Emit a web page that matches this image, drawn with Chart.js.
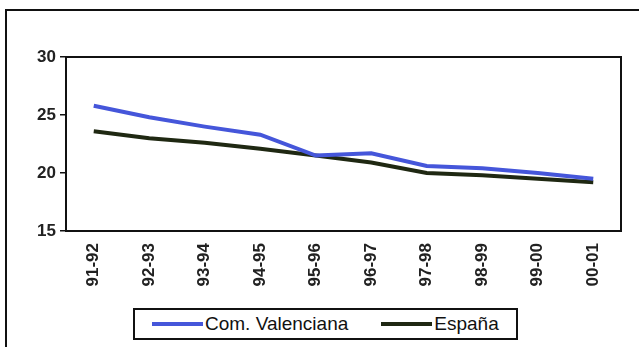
<!DOCTYPE html>
<html>
<head>
<meta charset="utf-8">
<script src="https://cdn.jsdelivr.net/npm/chart.js@4/dist/chart.umd.min.js"></script>
<style>
    html, body { margin: 0; padding: 0; background: #fff; overflow: hidden; }
    #wrap { position: relative; width: 639px; height: 347px; }
    #frame { position: absolute; left: 5px; top: 9px; width: 700px; height: 400px; border: 2px solid #111; box-sizing: border-box; }
    #chart { position: absolute; left: 0; top: 0; }
    #legend {
        position: absolute; left: 133px; top: 308px; width: 385px; height: 32px;
        border: 2px solid #111; box-sizing: border-box; background: #fff;
        display: flex; align-items: center; padding-left: 17px;
        font-family: "Liberation Sans", Arial, sans-serif; font-size: 19px; color: #111;
    }
    .item { display: flex; align-items: center; }
    .swatch { width: 51px; height: 4px; margin-right: 2px; }
</style>
</head>
<body>
<div id="wrap">
    <div id="frame"></div>
    <canvas id="chart" width="639" height="347"></canvas>
    <div id="legend"></div>
</div>
<script>
// cursos escolares
const cursos = ['91-92', '92-93', '93-94', '94-95', '95-96', '96-97', '97-98', '98-99', '99-00', '00-01'];
const valenciana = [25.8, 24.8, 24.0, 23.3, 21.5, 21.7, 20.6, 20.4, 20.0, 19.5];
const espana = [23.6, 23.0, 22.6, 22.1, 21.5, 20.9, 20.0, 19.8, 19.5, 19.2];
const yTicks = [15, 20, 25, 30];

const tickFont = { family: '"Liberation Sans", Arial, sans-serif', size: 17, weight: 'bold' };

// marco completo alrededor del área de trazado
const plotBox = {
    id: 'plotBox',
    afterDraw(chart) {
        const { ctx, chartArea: a } = chart;
        ctx.save();
        ctx.strokeStyle = '#111';
        ctx.lineWidth = 2;
        ctx.strokeRect(a.left, a.top, a.right - a.left, a.bottom - a.top);
        ctx.restore();
    }
};

const chart = new Chart(document.getElementById('chart'), {
    type: 'line',
    data: {
        labels: cursos,
        datasets: [
            { label: 'Com. Valenciana', data: valenciana, borderColor: '#4556da', borderWidth: 4, pointRadius: 0, tension: 0 },
            { label: 'España', data: espana, borderColor: '#1f2812', borderWidth: 4, pointRadius: 0, tension: 0 }
        ]
    },
    options: {
        responsive: false,
        animation: false,
        layout: { padding: { top: 57, right: 18, left: 0, bottom: 0 } },
        plugins: { legend: { display: false }, tooltip: { enabled: false } },
        scales: {
            x: {
                offset: true,
                border: { display: false },
                grid: { display: true, drawOnChartArea: false, drawTicks: false, color: 'transparent' },
                ticks: { font: tickFont, color: '#222', minRotation: 90, maxRotation: 90, padding: 12 },
                afterFit(scale) { scale.height = 116; }
            },
            y: {
                min: 15, max: 30,
                border: { display: false },
                grid: { drawOnChartArea: false, drawTicks: true, tickLength: 6, color: '#111', lineWidth: 1.5 },
                afterBuildTicks(scale) { scale.ticks = yTicks.map(v => ({ value: v })); },
                ticks: { font: tickFont, color: '#222', padding: 4 },
                afterFit(scale) { scale.width = 66; }
            }
        }
    },
    plugins: [plotBox]
});

// leyenda con recuadro
const legend = document.getElementById('legend');
chart.data.datasets.forEach(ds => {
    const item = document.createElement('div');
    item.className = 'item';
    item.innerHTML = `<span class="swatch" style="background:${ds.borderColor}"></span><span>${ds.label}</span>`;
    legend.appendChild(item);
});
legend.lastChild.style.marginLeft = '33px';
</script>
</body>
</html>
